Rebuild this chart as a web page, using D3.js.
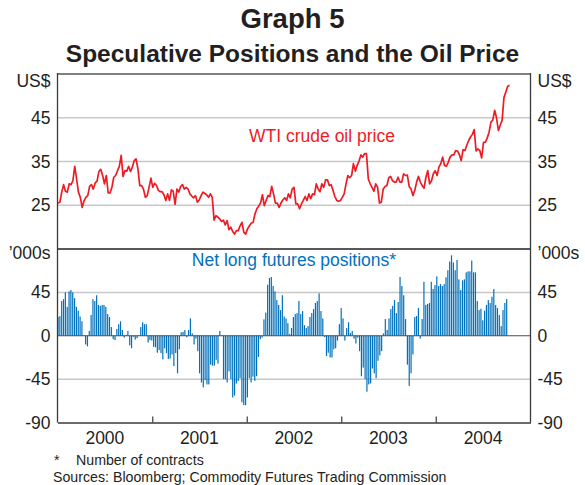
<!DOCTYPE html>
<html>
<head>
<meta charset="utf-8">
<script src="https://cdn.jsdelivr.net/npm/d3@7"></script>
<style>
body { margin: 0; background: #fff; }
text { font-family: "Liberation Sans", Arial, sans-serif; fill: #231f20; }
</style>
</head>
<body>
<script>
// WTI crude oil price, US$ per barrel, weekly
var oilStart = "2000-01-03", oilEnd = "2004-10-12";
var oilPrice = [
  25.5, 25.7, 28, 29.7, 28.2, 28, 29.9, 29.7, 30.6, 33.9, 31, 28, 26.8, 24.5, 26, 26.8,
  27.2, 29.3, 29.7, 28.7, 30.1, 30.5, 32.7, 33.2, 31.8, 29.9, 31.8, 27.8, 27.8, 29.1, 31.4, 31.8,
  32.9, 33.9, 36.4, 31.6, 32.9, 32.8, 33.9, 32.7, 33.7, 35.2, 35.6, 33.3, 29.5, 29.5, 28.7, 26.8,
  27.2, 29.1, 31.2, 29.1, 30, 29.5, 28.4, 28.1, 28.1, 27.4, 26.1, 27.6, 26.1, 28.5, 28.2, 25.2,
  28.7, 28, 29.3, 29.7, 28.7, 29.1, 28.7, 27.6, 27.1, 26.7, 27.2, 25.7, 26.2, 27.2, 28, 27.7,
  27.4, 26.8, 27.6, 26.8, 21.6, 22.6, 22.3, 21.9, 21.3, 21.6, 20.5, 21.5, 19.4, 20, 19, 18.4,
  19.2, 19.2, 20.3, 21.1, 18.8, 18.4, 19.6, 20.3, 20.9, 21.1, 23, 24.2, 24.8, 25.5, 27.4, 24.9,
  26.1, 27.2, 27, 29.3, 27.6, 25.5, 25.5, 24.5, 25.5, 26.2, 26.7, 26.1, 27.6, 26.7, 28.7, 29.1,
  25.3, 25.3, 24.2, 25.3, 26.1, 27, 26.1, 27.6, 26.5, 27.6, 27.4, 29.9, 28.7, 28.1, 29.9, 29.1,
  30.8, 30.8, 29.5, 29.7, 28.4, 27, 26.1, 25.9, 26.1, 26.8, 27.6, 29.9, 31.8, 31.3, 31.8, 34.5,
  32.8, 34.1, 35.1, 36.5, 36, 36.8, 36.8, 31, 29.9, 29.1, 28.2, 29.9, 29.1, 25.5, 25.7, 28.7,
  29.3, 29.5, 31.3, 31.6, 30.6, 30.3, 30.3, 31.4, 30.3, 30.3, 32.2, 31.8, 31.9, 29.3, 28.7, 27.2,
  28.4, 30.3, 31.6, 30.3, 29.5, 28.9, 31.4, 32.9, 29.9, 30.6, 32.2, 32.9, 31.8, 33.7, 34.5, 36,
  34.1, 33.9, 34.8, 36, 36.5, 36.5, 37.5, 37.4, 36.6, 35.2, 37.7, 37.5, 38.7, 39.8, 40.6, 41.2,
  42.3, 37.4, 37.9, 37.5, 35.8, 39.4, 39.4, 40.4, 41.7, 44, 44.5, 46.7, 45, 42.1, 43.3, 44.4,
  49.6, 50.9, 52.2, 52.4
];

// Net long futures positions, '000s of contracts, weekly
var posStart = "2000-01-03", posEnd = "2004-10-01";
var netLong = [
  19.4, 20.4, 36, 38, 45, 30, 46, 47.4, 45, 39, 30, 26, 20, 15, 0.5, -9,
  -11, 5, 21.5, 38, 36, 42, 32, 31, 32, 32, 30, 22.5, 19.4, 9, -3.5, -4.5,
  7, 12, 15, 6, -2, 1, 5, -10, -13, -1, -4, -2.5, 0.5, 9, 14, 12,
  12, -7, -4.5, -5, -11.5, -12, -17.6, -15, -18, -24.5, -13, -18, -24, -23.5, -19.4, -31.5,
  -18, -39, -14, 3.5, 4, 6, -1.5, 6, 18, 2.5, -9, -3, -16, -39, -48.5, -53.6,
  -46, -50.5, -50.5, -30, -31, -31, -25, -29, 5, 0.5, -45, -45, -48.5, -37, -45, -64,
  -62, -49.5, -47, -44, -69, -72, -72, -64, -44, -48.5, -42.5, -46.7, -42, -22, -3.5, -2,
  17, 24, 53, 60, 61, 51.6, 46, 37, 32, 26.6, 42, 20, 18, 13, 2, 8,
  19.4, 22.5, 23.5, 36, 22.5, 25.6, 11, 8, 10, 19.4, 23.5, 27.7, 34, 36, 44, 25.6,
  18, -1.4, -21, -17.6, -22.5, -22.5, -14, -13, -5, 12, 28.7, 18, -5, 8, 14, 2.8,
  5, -3, -8, -2, -16, -42, -33, -45, -58, -50.5, -49.5, -34, -39, -44, -26, -20.4,
  -16, 2.4, 17.3, 6, 18, 27.7, 31, 37, 23.5, 35, 61, 51.6, 42, 17.3, -30, -52,
  -39, -19.4, 19.4, 20.4, 28.7, -3, 17.3, 56, 32, 33, 34, 56, 48.5, 52.6, 61.6, 51.6,
  53.6, 51.6, 53.6, 60.6, 68, 77, 83.4, 76, 68, 78.6, 58.5, 47.4, 57.5, 58.5, 65.8, 66.8,
  66.8, 78, 65.8, 65.8, 36, 26.6, 28, 16, 26, 32, 37, 34, 40.5, 48.5, 32, 28.7,
  21.5, 10, 26.6, 34, 38
];

var years = ["2000", "2001", "2002", "2003", "2004"];
var yearBreaks = ["2001-01-01", "2002-01-01", "2003-01-01", "2004-01-01"];
var priceTicks = [25, 35, 45];
var posTicks = [-90, -45, 0, 45];
var posGrid = [-45, 45];

var W = 585, H = 485;
var plotLeft = 57.5, plotRight = 530.5, plotTop = 74, plotMid = 249, plotBottom = 422.5;
var labelSize = "17.5px";

var svg = d3.select("body").append("svg")
    .attr("width", W)
    .attr("height", H);

var parse = d3.timeParse("%Y-%m-%d");

var x = d3.scaleTime()
    .domain([new Date(2000, 0, 1), new Date(2005, 0, 1)])
    .range([plotLeft, plotRight]);
var yTop = d3.scaleLinear().domain([15, 55]).range([plotMid, plotTop]);
var yBot = d3.scaleLinear().domain([-90, 90]).range([plotBottom, plotMid]);

// spread a weekly series between its first and last date
function weekly(values, start, end) {
    var t = d3.scaleLinear().domain([0, values.length - 1])
        .range([parse(start).getTime(), parse(end).getTime()]);
    return values.map(function (v, i) { return { date: new Date(t(i)), value: v }; });
}
var oil = weekly(oilPrice, oilStart, oilEnd);
var pos = weekly(netLong, posStart, posEnd);

// titles
svg.append("text")
    .attr("x", W / 2).attr("y", 28)
    .attr("text-anchor", "middle")
    .style("font-size", "27.5px").style("font-weight", "bold")
    .text("Graph 5");
svg.append("text")
    .attr("x", W / 2).attr("y", 62)
    .attr("text-anchor", "middle")
    .style("font-size", "24.5px").style("font-weight", "bold")
    .text("Speculative Positions and the Oil Price");

// gridlines
svg.append("g").selectAll("line")
    .data(priceTicks).enter().append("line")
    .attr("x1", plotLeft).attr("x2", plotRight)
    .attr("y1", function (d) { return yTop(d); })
    .attr("y2", function (d) { return yTop(d); })
    .attr("stroke", "#c8c8c8").attr("stroke-width", 1.5);
svg.append("g").selectAll("line")
    .data(posGrid).enter().append("line")
    .attr("x1", plotLeft).attr("x2", plotRight)
    .attr("y1", function (d) { return yBot(d); })
    .attr("y2", function (d) { return yBot(d); })
    .attr("stroke", "#c8c8c8").attr("stroke-width", 1.5);

// bars
svg.append("g").selectAll("rect")
    .data(pos).enter().append("rect")
    .attr("x", function (d) { return x(d.date) - 0.6; })
    .attr("width", 1.2)
    .attr("y", function (d) { return yBot(Math.max(0, d.value)); })
    .attr("height", function (d) { return Math.abs(yBot(d.value) - yBot(0)); })
    .attr("fill", "#0071bc");

// zero line
svg.append("line")
    .attr("x1", plotLeft).attr("x2", plotRight)
    .attr("y1", yBot(0)).attr("y2", yBot(0))
    .attr("stroke", "#4d4d4d").attr("stroke-width", 1.2);

// oil price line
var valueline = d3.line()
    .x(function (d) { return x(d.date); })
    .y(function (d) { return yTop(d.value); });
svg.append("path")
    .datum(oil)
    .attr("d", valueline)
    .attr("fill", "none")
    .attr("stroke", "#ed1c24")
    .attr("stroke-width", 1.7)
    .attr("stroke-linejoin", "round");

// frame
svg.append("line").attr("x1", plotLeft).attr("x2", plotRight).attr("y1", plotTop).attr("y2", plotTop)
    .attr("stroke", "#808080").attr("stroke-width", 2);
svg.append("line").attr("x1", plotLeft).attr("x2", plotRight).attr("y1", plotMid).attr("y2", plotMid)
    .attr("stroke", "#231f20").attr("stroke-width", 1.5);
svg.append("line").attr("x1", plotLeft).attr("x2", plotLeft).attr("y1", plotTop - 1).attr("y2", plotBottom)
    .attr("stroke", "#3a3a3a").attr("stroke-width", 1.3);
svg.append("line").attr("x1", plotRight).attr("x2", plotRight).attr("y1", plotTop - 1).attr("y2", plotBottom)
    .attr("stroke", "#3a3a3a").attr("stroke-width", 1.3);

// x axis: ticks on year boundaries, labels mid-year
var xAxis = svg.append("g")
    .attr("transform", "translate(0," + plotBottom + ")")
    .call(d3.axisBottom(x)
        .tickValues(yearBreaks.map(parse))
        .tickSize(-6)
        .tickSizeOuter(0)
        .tickFormat(""));
xAxis.select(".domain").attr("stroke", "#3a3a3a").attr("stroke-width", 1.5);
xAxis.selectAll(".tick line").attr("stroke", "#3a3a3a").attr("stroke-width", 1.2);

svg.append("g").selectAll("text")
    .data(years).enter().append("text")
    .attr("x", function (d) { return x(new Date(+d, 6, 2)); })
    .attr("y", 444)
    .attr("text-anchor", "middle")
    .style("font-size", labelSize)
    .text(function (d) { return d; });

// y axes, both sides
function yLabels(scale, ticks, side) {
    var ax = side == "left" ? d3.axisLeft(scale) : d3.axisRight(scale);
    var g = svg.append("g")
        .attr("transform", "translate(" + (side == "left" ? plotLeft : plotRight) + ",0)")
        .call(ax.tickValues(ticks).tickSize(0).tickPadding(7)
            .tickFormat(function (d) { return String(d); }));
    g.select(".domain").remove();
    g.selectAll("text")
        .style("font-size", labelSize)
        .style("font-family", '"Liberation Sans", Arial, sans-serif')
        .attr("fill", "#231f20");
}
yLabels(yTop, priceTicks, "left");
yLabels(yTop, priceTicks, "right");
yLabels(yBot, posTicks, "left");
yLabels(yBot, posTicks, "right");

// units
svg.append("text").attr("x", plotLeft - 7).attr("y", 87).attr("text-anchor", "end")
    .style("font-size", labelSize).text("US$");
svg.append("text").attr("x", plotRight + 7).attr("y", 87)
    .style("font-size", labelSize).text("US$");
svg.append("text").attr("x", plotLeft - 7).attr("y", 259).attr("text-anchor", "end")
    .style("font-size", labelSize).text("\u2019000s");
svg.append("text").attr("x", plotRight + 7).attr("y", 259)
    .style("font-size", labelSize).text("\u2019000s");

// series labels
svg.append("text").attr("x", 322).attr("y", 142).attr("text-anchor", "middle")
    .style("font-size", labelSize).style("fill", "#ed1c24")
    .text("WTI crude oil price");
svg.append("text").attr("x", 294).attr("y", 266).attr("text-anchor", "middle")
    .style("font-size", labelSize).style("fill", "#0071bc")
    .text("Net long futures positions*");

// notes
svg.append("text").attr("x", 54).attr("y", 465).style("font-size", "14.2px").text("*");
svg.append("text").attr("x", 76).attr("y", 465).style("font-size", "14.2px").text("Number of contracts");
svg.append("text").attr("x", 53).attr("y", 482).style("font-size", "14.2px")
    .text("Sources: Bloomberg; Commodity Futures Trading Commission");
</script>
</body>
</html>
